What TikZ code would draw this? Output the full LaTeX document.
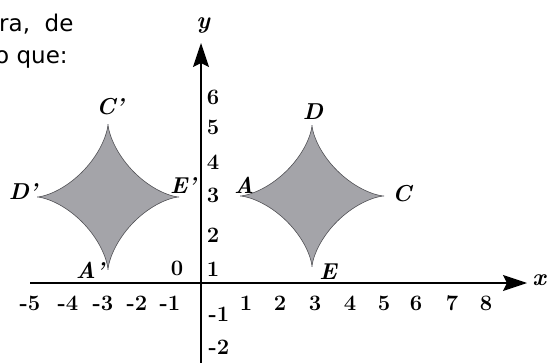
\documentclass[tikz,border=0pt]{standalone}
\usepackage{fontspec}
\newfontfamily\casual{DejaVu Sans}
\usetikzlibrary{arrows.meta}
\definecolor{shapefill}{RGB}{164,164,169}
\definecolor{shapeline}{RGB}{80,80,84}
\tikzset{
  axisline/.style={line width=1.3pt, draw=black, -{Stealth[length=24pt,width=16pt,inset=4pt]}},
  num/.style={inner sep=0pt, font=\fontsize{22}{22}\selectfont\bfseries},
  ptlabel/.style={inner sep=0pt, font=\fontsize{23}{23}\selectfont\bfseries\itshape},
  astroid/.style={fill=shapefill, draw=shapeline, line width=0.6pt},
  prose/.style={inner sep=0pt, anchor=base west, font=\fontsize{23}{23}\casual}
}
\begin{document}
\begin{tikzpicture}[x=1pt,y=-1pt]
\useasboundingbox (0,0) rectangle (548,363);
% prose
\node[prose] (t1) at (-1,32) {ra,\ \ de};
\node[prose] (t2) at (-5,64) {o que:};
% shapes
\draw[astroid] plot[domain=0:360, samples=200, smooth] ({312+72*pow(cos(\x),3)},{196+71*pow(sin(\x),3)});
\draw[astroid] plot[domain=0:360, samples=200, smooth] ({108+71*pow(cos(\x),3)},{197+73*pow(sin(\x),3)});
% axes
\coordinate (xs) at (30,283);
\coordinate (xe) at (527,283);
\coordinate (ys) at (201,363);
\coordinate (ye) at (201,43);
\draw[axisline] (xs) -- (xe);
\draw[axisline] (ys) -- (ye);
\node[inner sep=0pt, font=\fontsize{24}{24}\selectfont\bfseries\itshape] (xl) at (539,280) {x};
\node[inner sep=0pt, font=\fontsize{24}{24}\selectfont\bfseries\itshape] (yl) at (203,26) {y};
% x labels
\foreach \v/\px in {-5/30,-4/68,-3/103,-2/137,-1/170,1/246,2/280,3/315,4/350,5/384,6/416,7/452,8/486}{
  \node[num] (xn\v) at (\px,303) {\v};
}
% y labels
\foreach \v/\py in {6/97,5/127,4/162,3/195,2/235,1/269}{
  \node[num] (yn\v) at (213,\py) {\v};
}
\node[num] (ynm1) at (219,314) {-1};
\node[num] (ynm2) at (219,347) {-2};
\node[num] (zero) at (177,268) {0};
% point labels
\node[ptlabel] (D) at (313,112) {D};
\node[ptlabel] (C) at (402,194) {C};
\node[ptlabel] (A) at (244,185) {A};
\node[ptlabel] (E) at (328,272) {E};
\node[ptlabel] (Cp) at (110,107) {C'};
\node[ptlabel] (Dp) at (23,192) {D'};
\node[ptlabel] (Ep) at (183,186) {E'};
\node[ptlabel] (Ap) at (90,270) {A'};
\end{tikzpicture}
\end{document}
